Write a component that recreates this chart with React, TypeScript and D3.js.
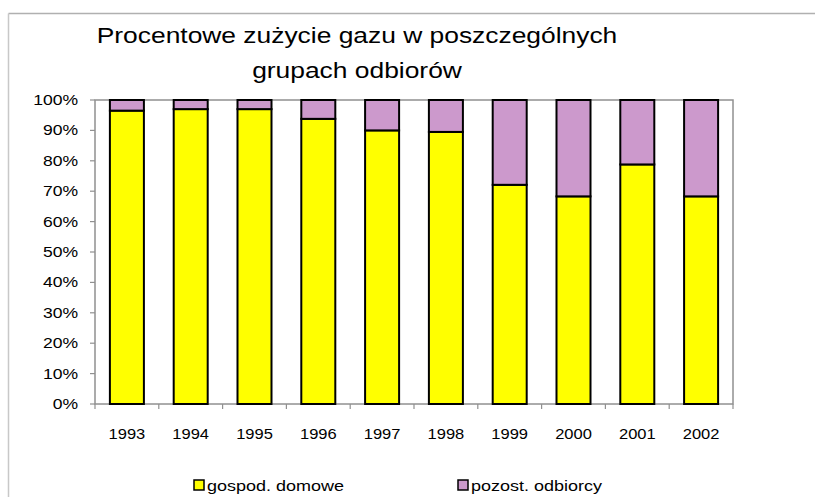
import React from "react";
import * as d3 from "d3";

const years = ["1993", "1994", "1995", "1996", "1997", "1998", "1999", "2000", "2001", "2002"];
const domowe = [96.5, 97.0, 97.0, 93.8, 90.0, 89.5, 72.1, 68.3, 78.8, 68.3];
const pozostali = domowe.map((v) => 100 - v);
const yTicks = [0, 10, 20, 30, 40, 50, 60, 70, 80, 90, 100];
const seriesNames = ["gospod. domowe", "pozost. odbiorcy"];
const seriesColors = ["#FFFF00", "#CC99CC"];
const titleLines = ["Procentowe zużycie gazu w poszczególnych", "grupach odbiorów"];

const W = 815;
const H = 497;
const left = 95;
const right = 733;
const top = 100;
const bottom = 404;
const SX = 1.17;
const FONT = "'Liberation Sans', Arial, sans-serif";

export default function App() {
  const x = d3
    .scaleBand<string>()
    .domain(years)
    .range([left, right])
    .paddingInner(0.467)
    .paddingOuter(0.2335);
  const step = x.step();
  const y = d3.scaleLinear().domain([0, 100]).range([bottom, top]);

  const stacked = d3.stack<any>().keys(["d", "p"])(
    years.map((yr, i) => ({ year: yr, d: domowe[i], p: pozostali[i] }))
  );

  const stretchText = (
    txt: string,
    tx: number,
    ty: number,
    size: number,
    anchor: "start" | "middle" | "end",
    key?: string,
    sx: number = SX
  ) => (
    <text
      key={key}
      transform={`translate(${tx},${ty}) scale(${sx},1)`}
      textAnchor={anchor}
      fontFamily={FONT}
      fontSize={size}
      fill="#000"
    >
      {txt}
    </text>
  );

  return (
    <svg
      width={W}
      height={H}
      style={{ position: "absolute", left: 0, top: 0, background: "#fff" }}
    >
      {/* outer chart frame */}
      <line x1={8.5} y1={13.5} x2={W} y2={13.5} stroke="#b0b0b0" strokeWidth={1.5} />
      <line x1={8.5} y1={13.5} x2={8.5} y2={H} stroke="#c8c8c8" strokeWidth={1.5} />

      {/* title */}
      {stretchText(titleLines[0], 357, 43, 22, "middle", "t0", 1.2)}
      {stretchText(titleLines[1], 357, 78, 22, "middle", "t1", 1.2)}

      {/* plot area border */}
      <rect
        x={left}
        y={top}
        width={right - left}
        height={bottom - top}
        fill="none"
        stroke="#909090"
        strokeWidth={1.5}
      />

      {/* y ticks & labels */}
      {yTicks.map((t) => (
        <g key={"y" + t}>
          <line x1={left - 5} x2={left} y1={y(t)} y2={y(t)} stroke="#909090" strokeWidth={1.2} />
          {stretchText(t + "%", 78, y(t) + 5, 15, "end")}
        </g>
      ))}

      {/* x ticks (category separators) & labels */}
      {d3.range(years.length + 1).map((i) => (
        <line
          key={"xt" + i}
          x1={left + i * step}
          x2={left + i * step}
          y1={bottom}
          y2={bottom + 5}
          stroke="#909090"
          strokeWidth={1.2}
        />
      ))}
      {years.map((yr) => stretchText(yr, (x(yr) as number) + x.bandwidth() / 2, 439, 15, "middle", "xl" + yr, 1.1))}

      {/* bars */}
      {stacked.map((layer, li) =>
        layer.map((seg, i) => (
          <rect
            key={li + "-" + i}
            x={x(years[i])}
            y={y(seg[1])}
            width={x.bandwidth()}
            height={y(seg[0]) - y(seg[1])}
            fill={seriesColors[li]}
            stroke="#000"
            strokeWidth={2}
          />
        ))
      )}

      {/* legend */}
      {[194, 458].map((lx, i) => (
        <g key={"lg" + i}>
          <rect x={lx} y={480} width={10} height={10} fill={seriesColors[i]} stroke="#000" strokeWidth={1.5} />
          {stretchText(seriesNames[i], lx + 13, 491, 15, "start", undefined, 1.2)}
        </g>
      ))}
    </svg>
  );
}
